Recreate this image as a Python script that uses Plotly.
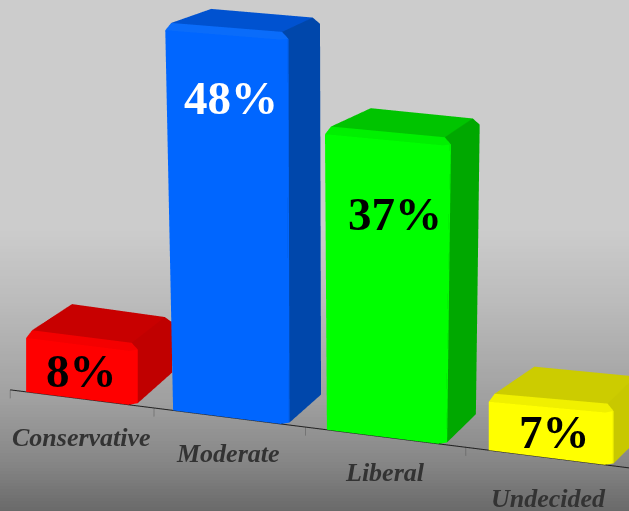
import plotly.graph_objects as go

# data
categories = ["Conservative", "Moderate", "Liberal", "Undecided"]
values = [8, 48, 37, 7]
value_labels = ["8%", "48%", "37%", "7%"]
front_colors = ["#ff0000", "#0066ff", "#00ff00", "#ffff00"]
top_colors = ["#c80000", "#0052d0", "#00c400", "#cccc00"]
side_colors = ["#c00000", "#0047ab", "#00a800", "#c8c800"]
bevel_colors = ["#f40000", "#0a6cfa", "#00f000", "#f0f000"]
label_colors = ["black", "white", "black", "black"]

# layout of the categories along the axis
tick_pos = [0, 0.96, 1.97, 3.04]
bar_left = [0.107, 1.087, 2.113, 3.193]
bar_right = [0.833, 1.847, 2.90, 4.01]
value_label_x = [0.474, 1.473, 2.568, 3.633]
value_label_z = [3.6, 41.0, 28.75, 3.35]
cat_label_x = [0.473, 1.453, 2.5, 3.593]
cat_label_z = [-5.0, -4.7, -4.6, -5.2]
# small perspective corrections per bar (the source chart has a narrower lens)
height_scale = [0.96, 1.03, 1.046, 1.0]
top_tilt = [0.0, 0.7, 0.5, 0.6]
top_left_shift = [0.0, -0.053, -0.013, 0.0]
top_right_shift = [0.0, -0.007, 0.026, 0.0]
back_drop = [-0.9, 0.8, 0.2, -1.0]
bottom_raise = [1.4, 1.0, 1.0, 1.0]
back_right_px = [2, -1, -4, -4]
DEPTH = 0.55
BEVEL = 0.04
ZB = 0.8  # bevel height in value units


def add_bar(fig, n):
    x0, x1, h = bar_left[n], bar_right[n], values[n]
    cf, ct, cs, cb = front_colors[n], top_colors[n], side_colors[n], bevel_colors[n]
    c, cz, d = BEVEL, ZB, DEPTH
    xs, ys, zs, ii, jj, kk, fc = [], [], [], [], [], [], []

    def warp(x, y, z):
        f = z / h
        t = (x - x0) / (x1 - x0)
        b = y / d
        nx = x + f * ((1 - t) * top_left_shift[n] + t * top_right_shift[n])
        nx += b * ((1 - t) * 5 + t * back_right_px[n]) / 150
        nz = z * height_scale[n] + f * t * top_tilt[n] - f * b * back_drop[n] + (1 - f) * b * bottom_raise[n]
        return nx, y, nz

    def quad(p, col):
        m = len(xs)
        for v in p:
            a = warp(*v)
            xs.append(a[0]); ys.append(a[1]); zs.append(a[2])
        ii.extend([m, m]); jj.extend([m + 1, m + 2]); kk.extend([m + 2, m + 3])
        fc.extend([col, col])

    e = 0.02
    u = 0.006  # backing just behind the seams between facets
    fx = x1 - c + 0.003
    fz = h - cz + 0.06
    quad([(x0, u, 0), (fx, u, 0), (fx, u, fz), (x0, u, fz)], cf)
    sy = c - 0.003
    quad([(x1 - u, sy, 0), (x1 - u, d, 0), (x1 - u, d, h - cz), (x1 - u, sy, h - cz)], cs)
    tz = h - 0.03
    quad([(x0 + e, c - 0.0007, tz), (x1 - c + 0.0007, c - 0.0007, tz),
          (x1 - c + 0.0007, d - e, tz), (x0 + e * 2, d - e, tz)], ct)
    quad([(x0, 0, 0), (x1 - c, 0, 0), (x1 - c, 0, h - cz), (x0, 0, h - cz)], cf)
    quad([(x1, c, 0), (x1, d, 0), (x1, d, h - cz), (x1, c, h - cz)], cs)
    quad([(x0 + e, c, h), (x1 - c, c, h), (x1 - c, d - e, h), (x0 + e * 2, d, h)], ct)
    quad([(x0, 0, h - cz), (x1 - c, 0, h - cz), (x1 - c, c, h), (x0 + e, c, h)], cb)
    quad([(x1 - c, 0, 0), (x1, c, 0), (x1, c, h - cz), (x1 - c, 0, h - cz)], cf)
    quad([(x1 - c, c, h), (x1, c, h - cz), (x1, d, h - cz), (x1 - c, d - e, h)], cs)
    quad([(x1 - c, 0, h - cz), (x1, c, h - cz), (x1, c, h - cz), (x1 - c, c, h)], cb)

    fig.add_trace(go.Mesh3d(
        x=xs, y=ys, z=zs, i=ii, j=jj, k=kk, facecolor=fc, flatshading=True,
        lighting=dict(ambient=1, diffuse=0, specular=0, fresnel=0, roughness=1),
        hoverinfo="skip", showscale=False))


fig = go.Figure()
for n in range(4):
    add_bar(fig, n)

fig.add_trace(go.Scatter3d(x=[0, 4.3], y=[0, 0], z=[0, 0], mode="lines",
                           line=dict(color="#222222", width=2), hoverinfo="skip"))
for t in tick_pos:
    fig.add_trace(go.Scatter3d(x=[t, t], y=[0, 0], z=[0, -1.1], mode="lines",
                               line=dict(color="#555555", width=1), hoverinfo="skip"))

annos = []
for n in range(4):
    annos.append(dict(x=value_label_x[n], y=0, z=value_label_z[n], text="<b>%s</b>" % value_labels[n],
                      showarrow=False, xanchor="center", yanchor="middle",
                      font=dict(family="Liberation Serif", size=47, color=label_colors[n])))
    annos.append(dict(x=cat_label_x[n], y=0, z=cat_label_z[n], text="<b><i>%s</i></b>" % categories[n],
                      showarrow=False, xanchor="center", yanchor="middle",
                      font=dict(family="Liberation Serif", size=26, color="#333333")))

# background gradient
stops = [(0, 204), (230, 204), (300, 188), (400, 160), (460, 135), (511, 105)]
shapes = []
for y in range(0, 511, 3):
    for (a, ca), (b, cb) in zip(stops, stops[1:]):
        if a <= y <= b:
            g = int(ca + (cb - ca) * (y - a) / (b - a))
            break
    shapes.append(dict(type="rect", xref="paper", yref="paper", x0=0, x1=1,
                       y0=1 - (y + 3) / 511, y1=1 - y / 511, layer="below",
                       line=dict(width=0), fillcolor="rgb(%d,%d,%d)" % (g, g, g)))

hidden = dict(visible=False, showgrid=False, zeroline=False, showticklabels=False, autorange=False)
fig.update_layout(
    width=629, height=511, margin=dict(l=0, r=0, t=0, b=0), showlegend=False,
    paper_bgcolor="#cccccc", plot_bgcolor="rgba(0,0,0,0)", shapes=shapes,
    scene=dict(
        domain=dict(x=[0, 1], y=[0, 1]), bgcolor="rgba(0,0,0,0)",
        xaxis=dict(hidden, range=[-1.182, 4.818]),
        yaxis=dict(hidden, range=[0, 1]),
        zaxis=dict(hidden, range=[-20.96, 59.04]),
        aspectmode="manual", aspectratio=dict(x=3.854, y=0.612, z=2.546),
        camera=dict(eye=dict(x=0.78, y=-1.75, z=0.565), up=dict(x=0, y=0, z=1),
                    center=dict(x=0, y=0, z=0), projection=dict(type="orthographic")),
        annotations=annos,
    ),
)
fig.write_html("out.html", post_script="document.body.style.margin='0';",
               config=dict(displayModeBar=False))
